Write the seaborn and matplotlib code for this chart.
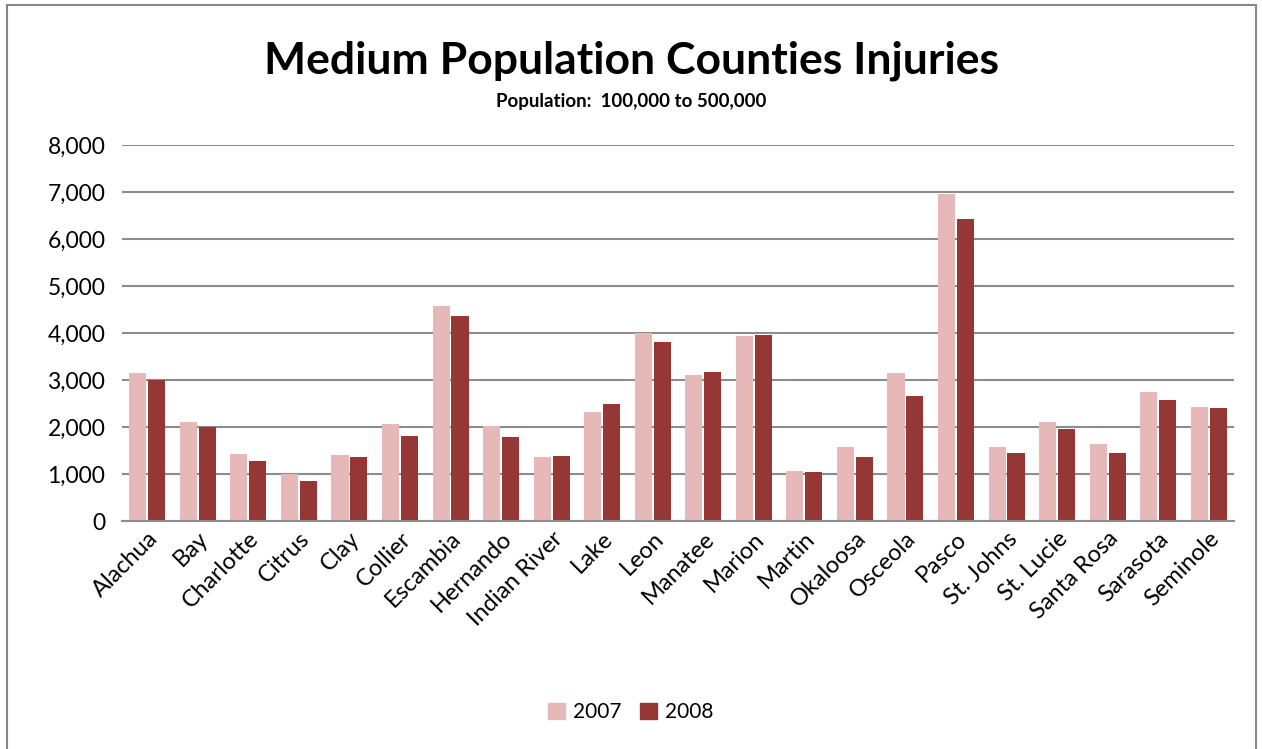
import matplotlib
matplotlib.use("Agg")
import matplotlib.pyplot as plt
import seaborn as sns
import pandas as pd
from matplotlib.patches import Rectangle

counties = ["Alachua", "Bay", "Charlotte", "Citrus", "Clay", "Collier", "Escambia",
            "Hernando", "Indian River", "Lake", "Leon", "Manatee", "Marion", "Martin",
            "Okaloosa", "Osceola", "Pasco", "St. Johns", "St. Lucie", "Santa Rosa",
            "Sarasota", "Seminole"]
inj_2007 = [3150, 2105, 1420, 1000, 1400, 2065, 4565, 2030, 1370, 2320, 4000, 3100,
            3940, 1065, 1570, 3145, 6950, 1585, 2100, 1645, 2750, 2420]
inj_2008 = [3000, 2000, 1285, 850, 1355, 1810, 4370, 1780, 1375, 2500, 3815, 3170,
            3955, 1050, 1370, 2660, 6425, 1455, 1950, 1455, 2580, 2400]
years = ["2007", "2008"]
colors = ["#E6B9B8", "#953735"]

df = pd.DataFrame({
    "County": counties * 2,
    "Year": [years[0]] * len(counties) + [years[1]] * len(counties),
    "Injuries": inj_2007 + inj_2008,
})

sns.set_theme(style="white")
plt.rcParams["font.family"] = ["Lato", "DejaVu Sans"]
plt.rcParams["text.color"] = "black"
plt.rcParams["xtick.color"] = "black"
plt.rcParams["ytick.color"] = "black"

fig = plt.figure(figsize=(12.62, 7.49), dpi=100)
ax = fig.add_axes([122 / 1262, 1 - 521 / 749, (1234 - 122) / 1262, (521 - 145) / 749])

sns.barplot(data=df, x="County", y="Injuries", hue="Year", palette=colors,
            width=0.75, gap=0.1, ax=ax, saturation=1, legend=False, linewidth=0)

ax.set_ylim(0, 8000)
ax.set_xlim(-0.5, len(counties) - 0.5)
ax.set_yticks(range(0, 8001, 1000))
ax.set_yticklabels([f"{v:,}" for v in range(0, 8001, 1000)], fontsize=16.5)
ax.yaxis.grid(True, color="#8C8C8C", linewidth=1.5)
ax.set_axisbelow(True)
for s in ["top", "right", "left"]:
    ax.spines[s].set_visible(False)
ax.spines["bottom"].set_color("#8C8C8C")
ax.spines["bottom"].set_linewidth(1.5)
ax.set_xlabel("")
ax.set_ylabel("")
ax.tick_params(axis="y", length=0, pad=12)
ax.tick_params(axis="x", length=0, pad=5)
plt.setp(ax.get_xticklabels(), rotation=45, ha="right", rotation_mode="anchor",
         fontsize=17)

fig.text(0.5, 1 - 61 / 749, "Medium Population Counties Injuries", ha="center",
         va="center", fontsize=32, fontweight="bold", color="black")
fig.text(0.5, 1 - 101 / 749, "Population:  100,000 to 500,000", ha="center",
         va="center", fontsize=13.5, fontweight="bold", color="black")

handles = [Rectangle((0, 0), 1, 1, color=c) for c in colors]
fig.legend(handles, years, loc="center", bbox_to_anchor=(0.5, 1 - 712 / 749),
           ncol=2, frameon=False, fontsize=15, handlelength=0.8, handleheight=0.8,
           handletextpad=0.4, columnspacing=0.9)

fig.add_artist(Rectangle((7 / 1262, -0.01), (1256 - 7) / 1262, 1 - 5 / 749 + 0.01,
                         transform=fig.transFigure, fill=False,
                         edgecolor="#868686", linewidth=1.5))

fig.savefig("out.png", dpi=100)
